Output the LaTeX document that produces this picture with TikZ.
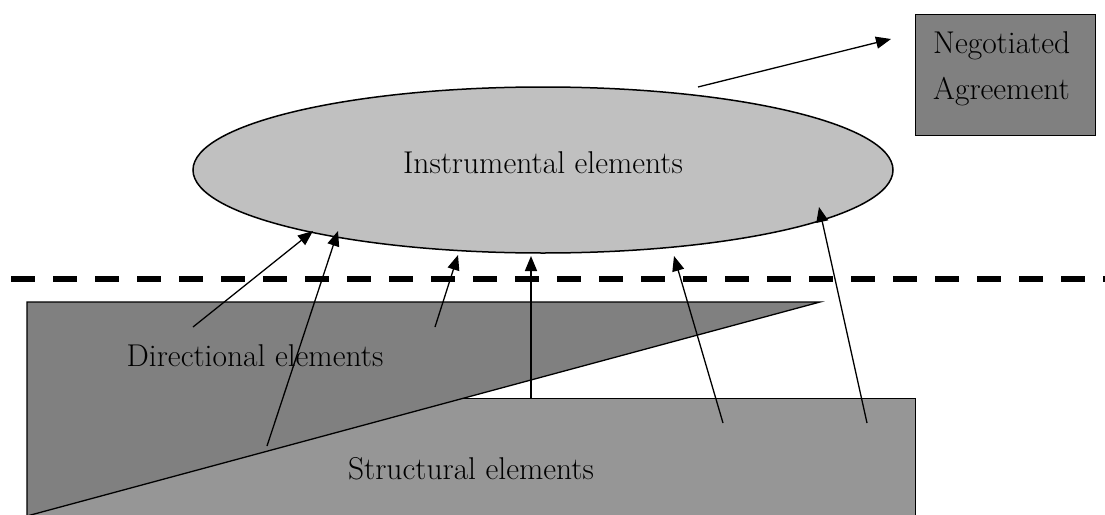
\documentclass[tikz,border=0pt]{standalone}
\usetikzlibrary{arrows.meta,shapes.geometric}
\definecolor{instgray}{RGB}{192,192,192}
\definecolor{dirgray}{RGB}{128,128,128}
\definecolor{strgray}{RGB}{150,150,150}
\begin{document}
\begin{tikzpicture}[x=1pt,y=-1pt,
  lbl/.style={font=\fontsize{31.5}{36}\selectfont, inner sep=0pt},
  conn/.style={line width=1.3pt, -{Triangle[length=15pt,width=12pt]}},
  shapeline/.style={draw=black, line width=1.3pt}]
\clip (0,0) rectangle (1105,514);
\fill[white] (0,0) rectangle (1105,514);
% structural and directional shapes
\node[shapeline, fill=strgray, rectangle, anchor=north west, minimum width=888pt, minimum height=140pt, inner sep=0pt] (struct) at (27,398) {};
\path[shapeline, fill=dirgray] (27,302) -- (820,302) -- (27,516) -- cycle;
\node[lbl] (dirtext) at (255,356) {Directional elements};
\node[lbl] (strtext) at (471,469) {Structural elements};
% dashed boundary
\coordinate (dl) at (11,279);
\coordinate (dr) at (1105,279);
\draw[line width=5.5pt, dash pattern=on 24pt off 18pt] (dl) -- (dr);
% instrumental ellipse
\node[ellipse, draw, line width=1.5pt, fill=instgray, minimum width=700pt, minimum height=166pt, inner sep=0pt] (inst) at (543,170) {};
\node[lbl] (insttext) at (543,163) {Instrumental elements};
% negotiated agreement
\node[shapeline, fill=dirgray, rectangle, anchor=north west, minimum width=180pt, minimum height=121pt, inner sep=0pt] (neg) at (915,14) {};
\node[lbl, anchor=base west] (negtext1) at (933,53) {Negotiated};
\node[lbl, anchor=base west] (negtext2) at (933,99) {Agreement};
% arrows
\coordinate (a1s) at (193,327); \coordinate (a1e) at (313,231);
\coordinate (a2s) at (267,446); \coordinate (a2e) at (338,231);
\coordinate (a3s) at (435,327); \coordinate (a3e) at (458,255);
\coordinate (a4s) at (531,398); \coordinate (a4e) at (531,256);
\coordinate (a5s) at (723,423); \coordinate (a5e) at (674,256);
\coordinate (a6s) at (867,423); \coordinate (a6e) at (819,207);
\coordinate (a7s) at (698,87);  \coordinate (a7e) at (891,39);
\draw[conn] (a1s) -- (a1e);
\draw[conn] (a2s) -- (a2e);
\draw[conn] (a3s) -- (a3e);
\draw[conn, line width=1.6pt] (a4s) -- (a4e);
\draw[conn] (a5s) -- (a5e);
\draw[conn] (a6s) -- (a6e);
\draw[conn] (a7s) -- (a7e);
\end{tikzpicture}
\end{document}
